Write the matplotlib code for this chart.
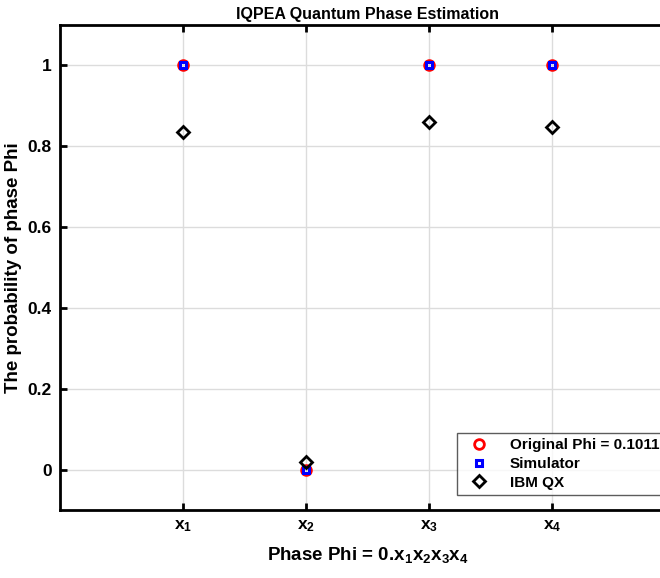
import numpy as np
import matplotlib
matplotlib.use('Agg')
import matplotlib.pyplot as plt

plt.rcParams['font.family'] = ['Liberation Sans', 'DejaVu Sans']
plt.rcParams['font.weight'] = 'bold'
plt.rcParams['mathtext.fontset'] = 'custom'
plt.rcParams['mathtext.rm'] = 'Liberation Sans:bold'
plt.rcParams['mathtext.it'] = 'Liberation Sans:bold'
plt.rcParams['mathtext.bf'] = 'Liberation Sans:bold'
plt.rcParams['mathtext.default'] = 'rm'

# data
positions = [1, 2, 3, 4]
tick_labels = ['x$_1$', 'x$_2$', 'x$_3$', 'x$_4$']
original = [1, 0, 1, 1]
simulator = [1, 0, 1, 1]
ibm_qx = [0.835, 0.02, 0.86, 0.847]

fig = plt.figure(figsize=(6.6, 5.78), dpi=100)
W, H = 660, 578
ax = fig.add_axes([60 / W, (H - 510) / H, 615 / W, 485 / H])

ax.plot(positions, original, 'o', color='red', mfc='none', mew=2, ms=7,
        label='Original Phi = 0.1011')
ax.plot(positions, simulator, 's', color='blue', mfc='none', mew=2.2, ms=4.5,
        label='Simulator')
ax.plot(positions, ibm_qx, 'D', color='black', mfc='none', mew=2, ms=6,
        label='IBM QX')

ax.set_xlim(0, 5)
ax.set_ylim(-0.1, 1.1)
ax.set_xticks(positions)
ax.set_xticklabels(tick_labels, fontsize=12.5, fontweight='bold')
ax.set_yticks([0, 0.2, 0.4, 0.6, 0.8, 1])
ax.set_yticklabels(['0', '0.2', '0.4', '0.6', '0.8', '1'], fontsize=12.5, fontweight='bold')
ax.tick_params(direction='in', length=5, width=2, top=True, right=True, pad=6)
ax.grid(True, color='#dcdcdc', linewidth=1)
ax.set_axisbelow(True)
for side in ['left', 'bottom', 'top']:
    ax.spines[side].set_linewidth(2)

ax.set_title('IQPEA Quantum Phase Estimation', fontsize=11.5, fontweight='bold', pad=4)
ax.set_xlabel('Phase Phi = 0.x$_1$x$_2$x$_3$x$_4$', fontsize=13.5, fontweight='bold', labelpad=8)
ax.set_ylabel('The probability of phase Phi', fontsize=13.5, fontweight='bold')
ax.yaxis.set_label_coords(-0.062, 0.5)

leg = ax.legend(loc='upper left', bbox_to_anchor=(457 / W, 1 - 433 / H),
                bbox_transform=fig.transFigure, borderaxespad=0,
                fancybox=False, edgecolor='#333333', fontsize=11,
                handletextpad=0.9, borderpad=0.35, labelspacing=0.3,
                handlelength=2.2)
leg.get_frame().set_linewidth(1)
for t in leg.get_texts():
    t.set_fontweight('bold')

fig.savefig('out.png', dpi=100)
